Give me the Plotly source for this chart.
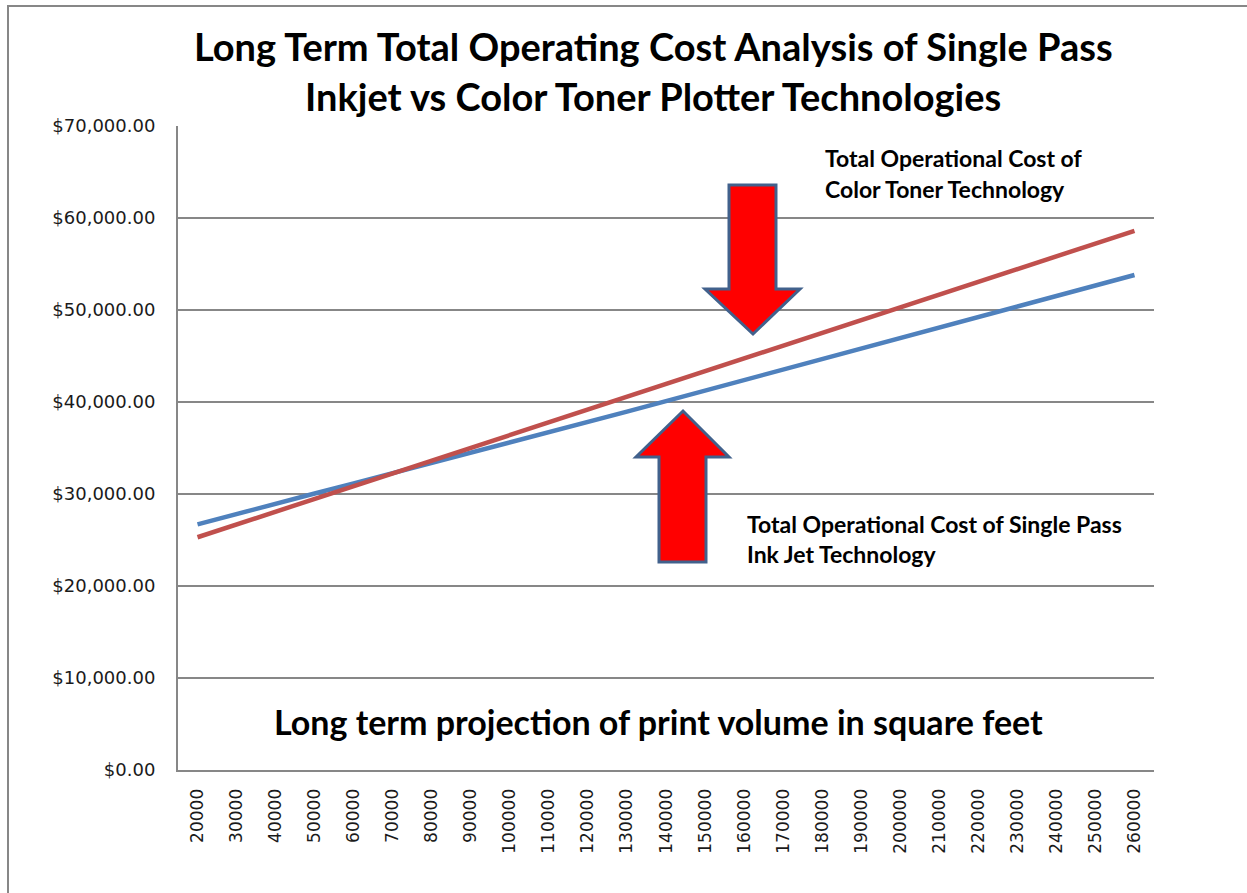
import plotly.graph_objects as go

# ---- data ----
volumes = ["20000", "30000", "40000", "50000", "60000", "70000", "80000", "90000",
           "100000", "110000", "120000", "130000", "140000", "150000", "160000",
           "170000", "180000", "190000", "200000", "210000", "220000", "230000",
           "240000", "250000", "260000"]
inkjet_cost = [26700, 27850, 28950, 30050, 31150, 32250, 33350, 34450, 35600, 36700,
               37800, 38950, 40100, 41250, 42400, 43500, 44650, 45800, 46950, 48100,
               49250, 50350, 51500, 52650, 53800]
toner_cost = [25300, 26690, 28080, 29460, 30850, 32240, 33630, 35020, 36400, 37790,
              39180, 40570, 41960, 43340, 44730, 46120, 47510, 48900, 50280, 51670,
              53060, 54450, 55840, 57220, 58610]
y_ticks = [0, 10000, 20000, 30000, 40000, 50000, 60000, 70000]
y_tick_labels = ["$0.00", "$10,000.00", "$20,000.00", "$30,000.00", "$40,000.00",
                 "$50,000.00", "$60,000.00", "$70,000.00"]

W, H = 1247, 893
L, R, T, B = 178, 1154, 126, 770  # plot area in pixels


def px(x):
    return (x - L) / (R - L)


def py(y):
    return (B - y) / (B - T)


def path(points):
    return "M " + " L ".join(f"{px(x):.5f},{py(y):.5f}" for x, y in points) + " Z"


fig = go.Figure()
fig.add_trace(go.Scatter(x=volumes, y=inkjet_cost, mode="lines",
                         line=dict(color="#4F81BD", width=4.5), name="Single Pass Ink Jet"))
fig.add_trace(go.Scatter(x=volumes, y=toner_cost, mode="lines",
                         line=dict(color="#C0504D", width=4.5), name="Color Toner"))

arrow_style = dict(type="path", xref="paper", yref="paper", fillcolor="#FF0000",
                   line=dict(color="#41618C", width=3), layer="above")
down_arrow = [(729, 185), (776, 185), (776, 289), (800, 289), (753, 334),
              (705, 289), (729, 289)]
up_arrow = [(659, 562), (706, 562), (706, 457), (729, 457), (683, 411),
            (636, 457), (659, 457)]

shapes = [
    dict(type="rect", xref="paper", yref="paper", x0=px(8), x1=px(1260), y0=py(910), y1=py(6),
         line=dict(color="#878787", width=2), fillcolor="rgba(0,0,0,0)", layer="below"),
    dict(path=path(down_arrow), **arrow_style),
    dict(path=path(up_arrow), **arrow_style),
]

title_font = dict(family="Lato, Open Sans, sans-serif", size=38, color="#000000")
note_font = dict(family="Lato, Open Sans, sans-serif", size=23, color="#000000")
annotations = [
    dict(text="<b>Long Term Total Operating Cost Analysis of Single Pass</b>", x=px(653), y=py(46),
         xref="paper", yref="paper", showarrow=False, xanchor="center", yanchor="middle",
         font=title_font),
    dict(text="<b>Inkjet vs Color Toner Plotter Technologies</b>", x=px(653), y=py(96),
         xref="paper", yref="paper", showarrow=False, xanchor="center", yanchor="middle",
         font=title_font),
    dict(text="<b>Total Operational Cost of</b>", x=px(823), y=py(158), xref="paper", yref="paper",
         showarrow=False, xanchor="left", yanchor="middle", font=note_font),
    dict(text="<b>Color Toner Technology</b>", x=px(823), y=py(189), xref="paper", yref="paper",
         showarrow=False, xanchor="left", yanchor="middle", font=note_font),
    dict(text="<b>Total Operational Cost of Single Pass</b>", x=px(745), y=py(524), xref="paper",
         yref="paper", showarrow=False, xanchor="left", yanchor="middle", font=note_font),
    dict(text="<b>Ink Jet Technology</b>", x=px(745), y=py(554), xref="paper", yref="paper",
         showarrow=False, xanchor="left", yanchor="middle", font=note_font),
    dict(text="<b>Long term projection of print volume in square feet</b>", x=px(658), y=py(721),
         xref="paper", yref="paper", showarrow=False, xanchor="center", yanchor="middle",
         font=dict(family="Lato, Open Sans, sans-serif", size=34, color="#000000")),
]

fig.update_layout(
    width=W, height=H, autosize=False,
    margin=dict(l=L, r=W - R, t=T, b=H - B, pad=0),
    paper_bgcolor="white", plot_bgcolor="white",
    showlegend=False,
    shapes=shapes, annotations=annotations,
    xaxis=dict(type="category", range=[-0.5, len(volumes) - 0.5], showgrid=False,
               showline=True, linecolor="#878787", linewidth=2, ticks="",
               tickangle=-90, ticklabelstandoff=10,
               tickfont=dict(family="DejaVu Sans", size=17, color="#1a1a1a")),
    yaxis=dict(range=[0, 70000], tickvals=y_ticks, ticktext=y_tick_labels,
               showgrid=True, gridcolor="#878787", gridwidth=1.5,
               showline=True, linecolor="#878787", linewidth=2, ticks="",
               zeroline=False, ticklabelstandoff=17,
               tickfont=dict(family="DejaVu Sans", size=18, color="#1a1a1a")),
)

fig.write_html("out.html", config={"displayModeBar": False},
               post_script="document.body.style.margin='0';document.body.style.overflow='hidden';")
